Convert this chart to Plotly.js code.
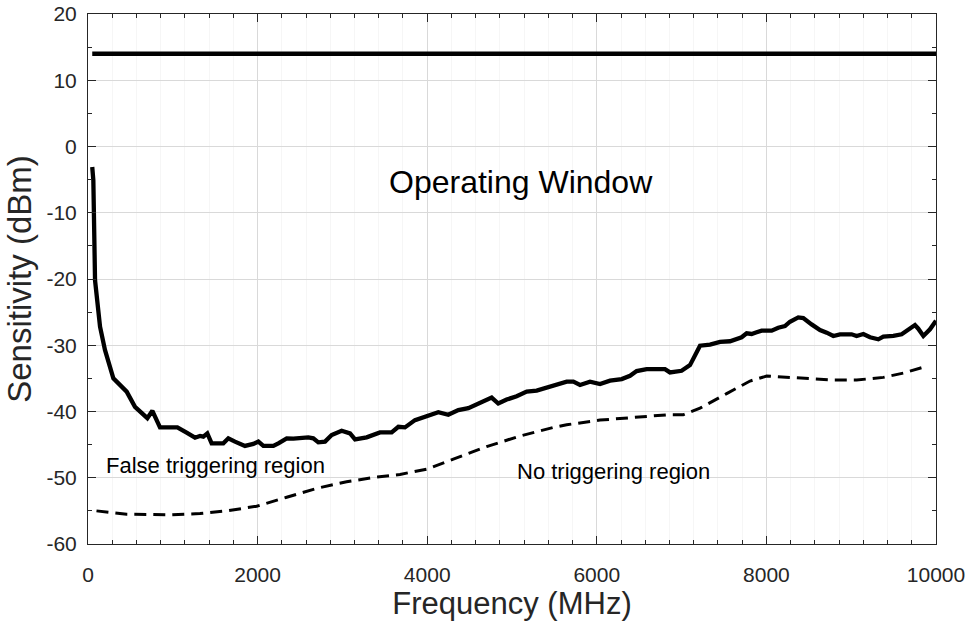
<!DOCTYPE html>
<html>
<head>
<meta charset="utf-8">
<script src="https://cdn.plot.ly/plotly-3.0.1.min.js"></script>
<style>html,body{margin:0;padding:0;background:#fff;}#chart{width:968px;height:622px;}</style>
</head>
<body>
<div id="chart"></div>
<script>
// Upper limit line (dBm)
const upperFreq = [50, 10000];
const upperSens = [14, 14];

// Measured sensitivity (solid)
const sensFreq = [50, 63, 83, 100, 142, 200, 299, 456, 554, 700, 759, 849, 1054, 1163, 1262, 1321, 1360, 1407, 1458, 1596, 1655, 1733, 1851, 1950, 2009, 2068, 2186, 2245, 2343, 2422, 2598, 2657, 2716, 2795, 2873, 2991, 3090, 3149, 3286, 3443, 3581, 3660, 3738, 3856, 3994, 4131, 4249, 4367, 4485, 4623, 4760, 4838, 4937, 5055, 5173, 5291, 5409, 5527, 5645, 5724, 5802, 5920, 6038, 6156, 6294, 6392, 6470, 6588, 6804, 6863, 7000, 7099, 7158, 7217, 7335, 7453, 7571, 7649, 7708, 7767, 7826, 7885, 7944, 8062, 8140, 8219, 8278, 8376, 8435, 8533, 8632, 8711, 8789, 8868, 9005, 9064, 9143, 9222, 9320, 9379, 9497, 9595, 9674, 9752, 9791, 9851, 9929, 10000];
const sensVal = [-3.1, -5.1, -20.2, -22.2, -27.2, -30.7, -35.0, -37.0, -39.3, -41.0, -39.9, -42.4, -42.4, -43.2, -43.95, -43.7, -43.8, -43.3, -44.8, -44.8, -44.05, -44.55, -45.2, -44.9, -44.55, -45.2, -45.2, -44.8, -44.05, -44.1, -43.9, -44.05, -44.65, -44.55, -43.55, -42.9, -43.3, -44.2, -43.9, -43.15, -43.15, -42.3, -42.4, -41.3, -40.7, -40.1, -40.5, -39.8, -39.5, -38.7, -37.9, -38.8, -38.2, -37.7, -37.0, -36.85, -36.4, -35.9, -35.5, -35.5, -36.0, -35.5, -35.85, -35.35, -35.1, -34.6, -33.9, -33.6, -33.6, -34.1, -33.85, -33.0, -31.6, -30.07, -29.9, -29.5, -29.4, -29.06, -28.8, -28.2, -28.3, -28.05, -27.8, -27.8, -27.35, -27.1, -26.45, -25.8, -25.9, -26.85, -27.7, -28.1, -28.6, -28.35, -28.35, -28.6, -28.3, -28.8, -29.1, -28.7, -28.6, -28.35, -27.55, -26.95, -27.5, -28.6, -27.6, -26.3];

// Lower boundary (dashed)
const lowFreq = [100, 456, 967, 1321, 1635, 1989, 2343, 2697, 3050, 3404, 3679, 3994, 4308, 4701, 5094, 5487, 5645, 6038, 6431, 6824, 7019, 7217, 7531, 7807, 8003, 8396, 8789, 9064, 9379, 9615, 9870];
const lowVal = [-55.0, -55.5, -55.6, -55.4, -55.0, -54.3, -52.95, -51.6, -50.6, -49.9, -49.5, -48.7, -47.2, -45.3, -43.7, -42.4, -42.0, -41.3, -40.9, -40.5, -40.5, -39.5, -37.3, -35.4, -34.65, -34.9, -35.25, -35.25, -34.85, -34.2, -33.25];

// Axis ticks
const xTicks = [0, 2000, 4000, 6000, 8000, 10000];
const yTicks = [-60, -50, -40, -30, -20, -10, 0, 10, 20];

// Region labels
const labelText = ["Operating Window", "False triggering region", "No triggering region"];
const labelX = [5106, 189, 5035];
const labelY = [-5.4, -48.2, -49.1];

const FONT = "Liberation Sans, Arial, Helvetica, sans-serif";
const INK = "#262626";

const traces = [
  {x: upperFreq, y: upperSens, mode: "lines", line: {color: "#000", width: 4.3}, hoverinfo: "skip"},
  {x: sensFreq, y: sensVal, mode: "lines", line: {color: "#000", width: 4.3}, hoverinfo: "skip"},
  {x: lowFreq, y: lowVal, mode: "lines", line: {color: "#000", width: 3, dash: "12px,7px"}, hoverinfo: "skip"}
];

const annotations = labelText.map((t, i) => ({
  text: t, x: labelX[i], y: labelY[i], xref: "x", yref: "y", showarrow: false,
  xanchor: i === 0 ? "center" : "left", yanchor: "middle",
  font: {family: FONT, size: i === 0 ? 32 : 22, color: "#000"}
}));

const axisCommon = {
  ticks: "inside", ticklen: 8, tickwidth: 1, tickcolor: INK,
  showline: true, linecolor: INK, linewidth: 1, mirror: "allticks",
  showgrid: true, gridcolor: "#d9d9d9", gridwidth: 1, zeroline: false,
  tickfont: {family: FONT, size: 21, color: INK}
};

const layout = {
  width: 968, height: 622,
  margin: {l: 88, r: 32, t: 14, b: 78},
  paper_bgcolor: "#fff", plot_bgcolor: "#fff",
  showlegend: false,
  xaxis: Object.assign({}, axisCommon, {
    range: [0, 10000], tickmode: "array", tickvals: xTicks, ticktext: xTicks.map(String),
    ticklabelstandoff: 12,
    minor: {ticks: "inside", ticklen: 4, tickcolor: INK, dtick: 2000 / 7, tick0: 0, showgrid: true, gridcolor: "#f6f6f6"},
    title: {text: "Frequency (MHz)", font: {family: FONT, size: 31, color: INK}, standoff: 2}
  }),
  yaxis: Object.assign({}, axisCommon, {
    range: [-60, 20], tickmode: "array", tickvals: yTicks, ticktext: yTicks.map(String),
    ticklabelstandoff: 6,
    minor: {ticks: "inside", ticklen: 4, tickcolor: INK, dtick: 5, tick0: 0, showgrid: false},
    title: {text: "Sensitivity (dBm)", font: {family: FONT, size: 33, color: INK}, standoff: 4}
  }),
  annotations: annotations
};

Plotly.newPlot("chart", traces, layout, {staticPlot: true, displayModeBar: false});
</script>
</body>
</html>
